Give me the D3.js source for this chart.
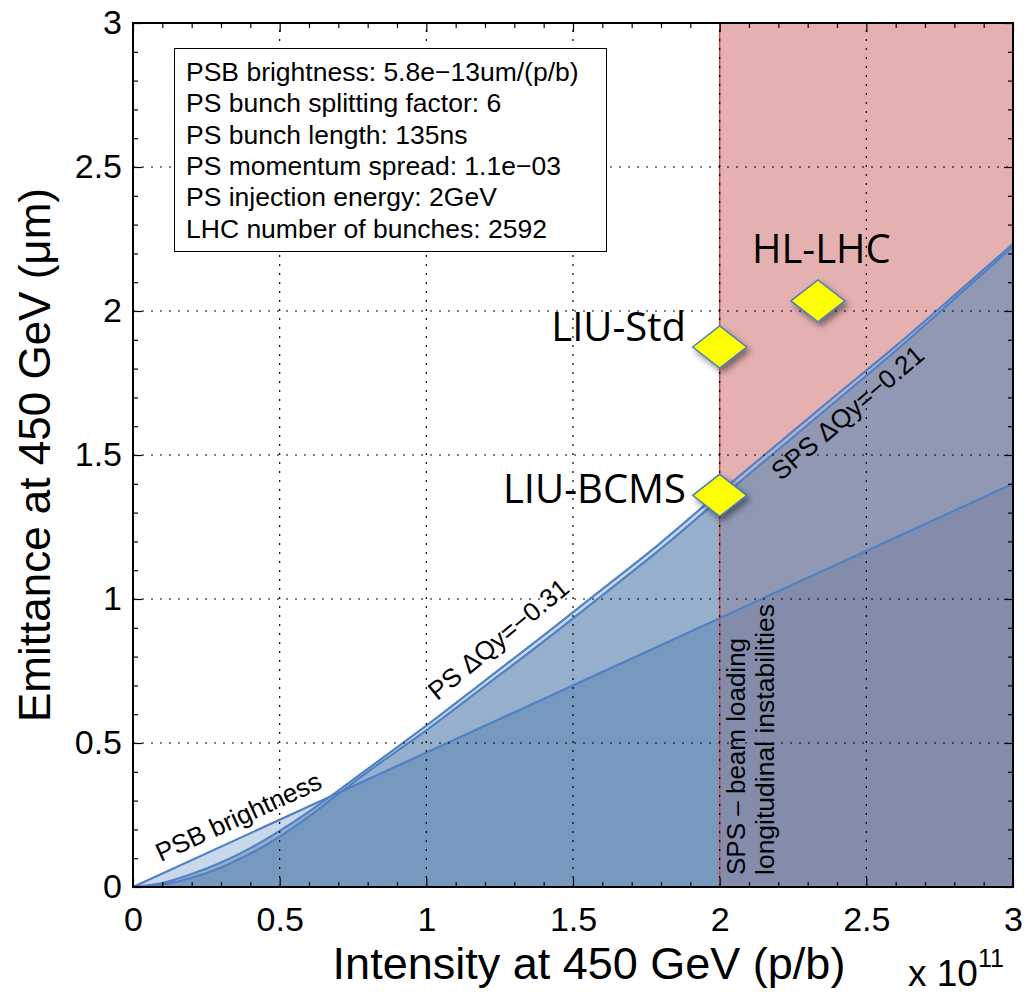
<!DOCTYPE html>
<html><head><meta charset="utf-8">
<script src="https://cdn.jsdelivr.net/npm/d3@7"></script>
<style>html,body{margin:0;padding:0;background:#fff;} svg{display:block}</style>
</head><body><svg id="chart" width="1027" height="996"></svg>
<script>
// ---------------- data ----------------
const intensity = [0,0.1,0.2,0.3,0.4,0.5,0.6,0.7,0.8,0.9,1.0,1.2,1.4,1.6,1.8,2.0,2.2,2.4,2.6,2.8,3.0];
const psLimit   = [0,0.014,0.045,0.085,0.135,0.195,0.262,0.335,0.41,0.485,0.56,0.717,0.874,1.034,1.196,1.37,1.54,1.71,1.878,2.054,2.233];
const spsLimit  = [0,0.008,0.032,0.068,0.116,0.175,0.245,0.323,0.400,0.472,0.544,0.698,0.853,1.013,1.175,1.348,1.519,1.690,1.862,2.042,2.224];
const psbIntensity = [0,3];
const psbEmittance = [0,1.4];
const spsBeamLoadingRange = [2.0,3.0];
const scenarioNames = ["LIU-BCMS","LIU-Std","HL-LHC"];
const scenarioIntensity = [2.0,2.0,2.335];
const scenarioEmittance = [1.36,1.875,2.035];
const xTickValues = [0,0.5,1,1.5,2,2.5,3];
const xTickLabels = ["0","0.5","1","1.5","2","2.5","3"];
const yTickValues = [0,0.5,1,1.5,2,2.5,3];
const yTickLabels = ["0","0.5","1","1.5","2","2.5","3"];
const infoLines = [
  "PSB brightness: 5.8e\u221213um/(p/b)",
  "PS bunch splitting factor: 6",
  "PS bunch length: 135ns",
  "PS momentum spread: 1.1e\u221203",
  "PS injection energy: 2GeV",
  "LHC number of bunches: 2592"
];

// ---------------- setup ----------------
const svg = d3.select("#chart");
const x = d3.scaleLinear().domain([0,3]).range([133,1013]);
const y = d3.scaleLinear().domain([0,3]).range([887,23]);
const FONT = "'Liberation Sans', Arial, Helvetica, sans-serif";

const defs = svg.append("defs");
const curveArea = ys => d3.area().x((d,i)=>x(intensity[i])).y0(y(0)).y1((d,i)=>y(ys[i])).curve(d3.curveMonotoneX)(ys);
const curveLine = ys => d3.line().x((d,i)=>x(intensity[i])).y((d,i)=>y(ys[i])).curve(d3.curveMonotoneX)(ys);
const psbAreaD = d3.area().x((d,i)=>x(psbIntensity[i])).y0(y(0)).y1(d=>y(d))(psbEmittance);
const psbLineD = d3.line().x((d,i)=>x(psbIntensity[i])).y(d=>y(d))(psbEmittance);
const psAreaD = curveArea(psLimit), spsAreaD = curveArea(spsLimit);

defs.append("clipPath").attr("id","clipLeft").append("rect")
  .attr("x",x(0)).attr("y",y(3)).attr("width",x(spsBeamLoadingRange[0])-x(0)).attr("height",y(0)-y(3));
defs.append("clipPath").attr("id","clipRight").append("rect")
  .attr("x",x(spsBeamLoadingRange[0])).attr("y",y(3)).attr("width",x(spsBeamLoadingRange[1])-x(spsBeamLoadingRange[0])).attr("height",y(0)-y(3));
defs.append("clipPath").attr("id","clipPSB").append("path").attr("d",psbAreaD);

const shadow = defs.append("filter").attr("id","shadow").attr("x","-50%").attr("y","-50%").attr("width","200%").attr("height","200%");
shadow.append("feDropShadow").attr("dx",3).attr("dy",4).attr("stdDeviation",3).attr("flood-color","#000").attr("flood-opacity",0.45);

// pink SPS region
svg.append("rect")
  .attr("x",x(spsBeamLoadingRange[0])).attr("y",y(3))
  .attr("width",x(spsBeamLoadingRange[1])-x(spsBeamLoadingRange[0])).attr("height",y(0)-y(3))
  .attr("fill","#e4b0b0");

function fills(clipId, pal){
  const g = svg.append("g").attr("clip-path",`url(#${clipId})`);
  g.append("path").attr("d",psbAreaD).attr("fill",pal.light);
  g.append("path").attr("d",psAreaD).attr("fill",pal.light);
  g.append("path").attr("d",spsAreaD).attr("fill",pal.medium);
  g.append("g").attr("clip-path","url(#clipPSB)").append("path").attr("d",psAreaD).attr("fill",pal.medium);
  g.append("g").attr("clip-path","url(#clipPSB)").append("path").attr("d",spsAreaD).attr("fill",pal.dark);
}
fills("clipLeft",{light:"#c8d8ea",medium:"#95afcc",dark:"#7899bf"});
fills("clipRight",{light:"#b4b0c8",medium:"#9198b4",dark:"#838cab"});

// limit lines
const lineColor = "#4f81c4";
svg.append("path").attr("d",psbLineD).attr("fill","none").attr("stroke",lineColor).attr("stroke-width",2.2);
svg.append("path").attr("d",curveLine(psLimit)).attr("fill","none").attr("stroke",lineColor).attr("stroke-width",2.2);
svg.append("path").attr("d",curveLine(spsLimit)).attr("fill","none").attr("stroke",lineColor).attr("stroke-width",2.2);

// red vertical line
svg.append("line").attr("x1",x(spsBeamLoadingRange[0])).attr("x2",x(spsBeamLoadingRange[0]))
  .attr("y1",y(0)).attr("y2",y(3)).attr("stroke","#c0504d").attr("stroke-width",1.5);

// grid
const grid = svg.append("g").attr("stroke","#000").attr("stroke-width",1.2).attr("stroke-dasharray","2,7");
xTickValues.slice(1,-1).forEach(v=>grid.append("line").attr("x1",x(v)).attr("x2",x(v)).attr("y1",y(0)).attr("y2",y(3)));
yTickValues.slice(1,-1).forEach(v=>grid.append("line").attr("y1",y(v)).attr("y2",y(v)).attr("x1",x(0)).attr("x2",x(3)));

// axes
const minor = d3.range(0,31).map(i=>i/10).filter(v=>Math.abs(v*2-Math.round(v*2))>1e-6);
function styleAxis(g){ g.select(".domain").remove(); g.selectAll("line").attr("stroke","#000").attr("stroke-width",1.2);
  g.selectAll("text").attr("font-family",FONT).attr("font-size",34).attr("fill","#000"); }
svg.append("g").attr("transform",`translate(0,${y(0)})`)
  .call(d3.axisBottom(x).tickValues(xTickValues).tickFormat((d,i)=>xTickLabels[i]).tickSizeInner(-9).tickSizeOuter(0).tickPadding(20)).call(styleAxis);
svg.append("g").attr("transform",`translate(${x(0)},0)`)
  .call(d3.axisLeft(y).tickValues(yTickValues).tickFormat((d,i)=>yTickLabels[i]).tickSizeInner(-9).tickSizeOuter(0).tickPadding(11)).call(styleAxis);
svg.append("g").attr("transform",`translate(0,${y(3)})`)
  .call(d3.axisTop(x).tickValues(xTickValues).tickFormat("").tickSizeInner(-9).tickSizeOuter(0)).call(styleAxis);
svg.append("g").attr("transform",`translate(${x(3)},0)`)
  .call(d3.axisRight(y).tickValues(yTickValues).tickFormat("").tickSizeInner(-9).tickSizeOuter(0)).call(styleAxis);
svg.append("g").attr("transform",`translate(0,${y(0)})`).call(d3.axisBottom(x).tickValues(minor).tickFormat("").tickSizeInner(-5).tickSizeOuter(0)).call(styleAxis);
svg.append("g").attr("transform",`translate(0,${y(3)})`).call(d3.axisTop(x).tickValues(minor).tickFormat("").tickSizeInner(-5).tickSizeOuter(0)).call(styleAxis);
svg.append("g").attr("transform",`translate(${x(0)},0)`).call(d3.axisLeft(y).tickValues(minor).tickFormat("").tickSizeInner(-5).tickSizeOuter(0)).call(styleAxis);
svg.append("g").attr("transform",`translate(${x(3)},0)`).call(d3.axisRight(y).tickValues(minor).tickFormat("").tickSizeInner(-5).tickSizeOuter(0)).call(styleAxis);
svg.append("rect").attr("x",x(0)).attr("y",y(3)).attr("width",x(3)-x(0)).attr("height",y(0)-y(3))
  .attr("fill","none").attr("stroke","#000").attr("stroke-width",2);

// axis labels
svg.append("text").attr("x",589).attr("y",979).attr("text-anchor","middle")
  .attr("font-family",FONT).attr("font-size",45).text("Intensity at 450 GeV (p/b)");
svg.append("text").attr("transform",`translate(50,${(y(0)+y(3))/2}) rotate(-90)`).attr("text-anchor","middle")
  .attr("font-family",FONT).attr("font-size",44).text("Emittance at 450 GeV (\u03bcm)");
const mult = svg.append("text").attr("x",908).attr("y",986).attr("font-family",FONT).attr("font-size",37);
mult.append("tspan").text("x 10");
mult.append("tspan").attr("dy",-19).attr("font-size",25).text("11");

// info box
svg.append("rect").attr("x",174.5).attr("y",48.5).attr("width",432).attr("height",203)
  .attr("fill","#fff").attr("stroke","#000").attr("stroke-width",1);
infoLines.forEach((t,i)=>svg.append("text").attr("x",186).attr("y",81+i*31.3)
  .attr("font-family",FONT).attr("font-size",26.5).text(t));

// curve labels
function curveLabel(text, px, py, ang, dy){
  svg.append("text").attr("transform",`translate(${px},${py}) rotate(${-ang})`).attr("dy",dy)
    .attr("font-family",FONT).attr("font-size",26).text(text);
}
const psbAngle = Math.atan((y(0)-y(psbEmittance[1]))/(x(psbIntensity[1])-x(0)))*180/Math.PI;
curveLabel("PSB brightness", x(0.11), y(0.11*psbEmittance[1]/psbIntensity[1]), psbAngle, -11);
curveLabel("PS \u0394Qy=\u22120.31", x(1.065), y(0.61), 39.5, -13);
curveLabel("SPS \u0394Qy=\u22120.21", x(2.14), y(1.49), 40.5, 31);

svg.append("text").attr("transform",`translate(745,875) rotate(-90)`).attr("font-family",FONT).attr("font-size",26).text("SPS \u2013 beam loading");
svg.append("text").attr("transform",`translate(774,875) rotate(-90)`).attr("font-family",FONT).attr("font-size",26.5).text("longitudinal instabilities");

// scenarios
const dg = svg.append("g");
scenarioNames.forEach((n,i)=>{
  const cx = x(scenarioIntensity[i]), cy = y(scenarioEmittance[i]);
  dg.append("path").attr("d",`M${cx-27},${cy}L${cx},${cy-21}L${cx+27},${cy}L${cx},${cy+21}Z`)
    .attr("fill","#ffff00").attr("stroke","#4a7ebb").attr("stroke-width",1.5).attr("filter","url(#shadow)");
});
const LF = "'Open Sans', Lato, sans-serif";
svg.append("text").attr("x",686).attr("y",503).attr("text-anchor","end").attr("font-family",LF).attr("font-size",40).text(scenarioNames[0]);
svg.append("text").attr("x",686).attr("y",341).attr("text-anchor","end").attr("font-family",LF).attr("font-size",40).text(scenarioNames[1]);
svg.append("text").attr("x",752).attr("y",263).attr("text-anchor","start").attr("font-family",LF).attr("font-size",40).text(scenarioNames[2]);
</script></body></html>
